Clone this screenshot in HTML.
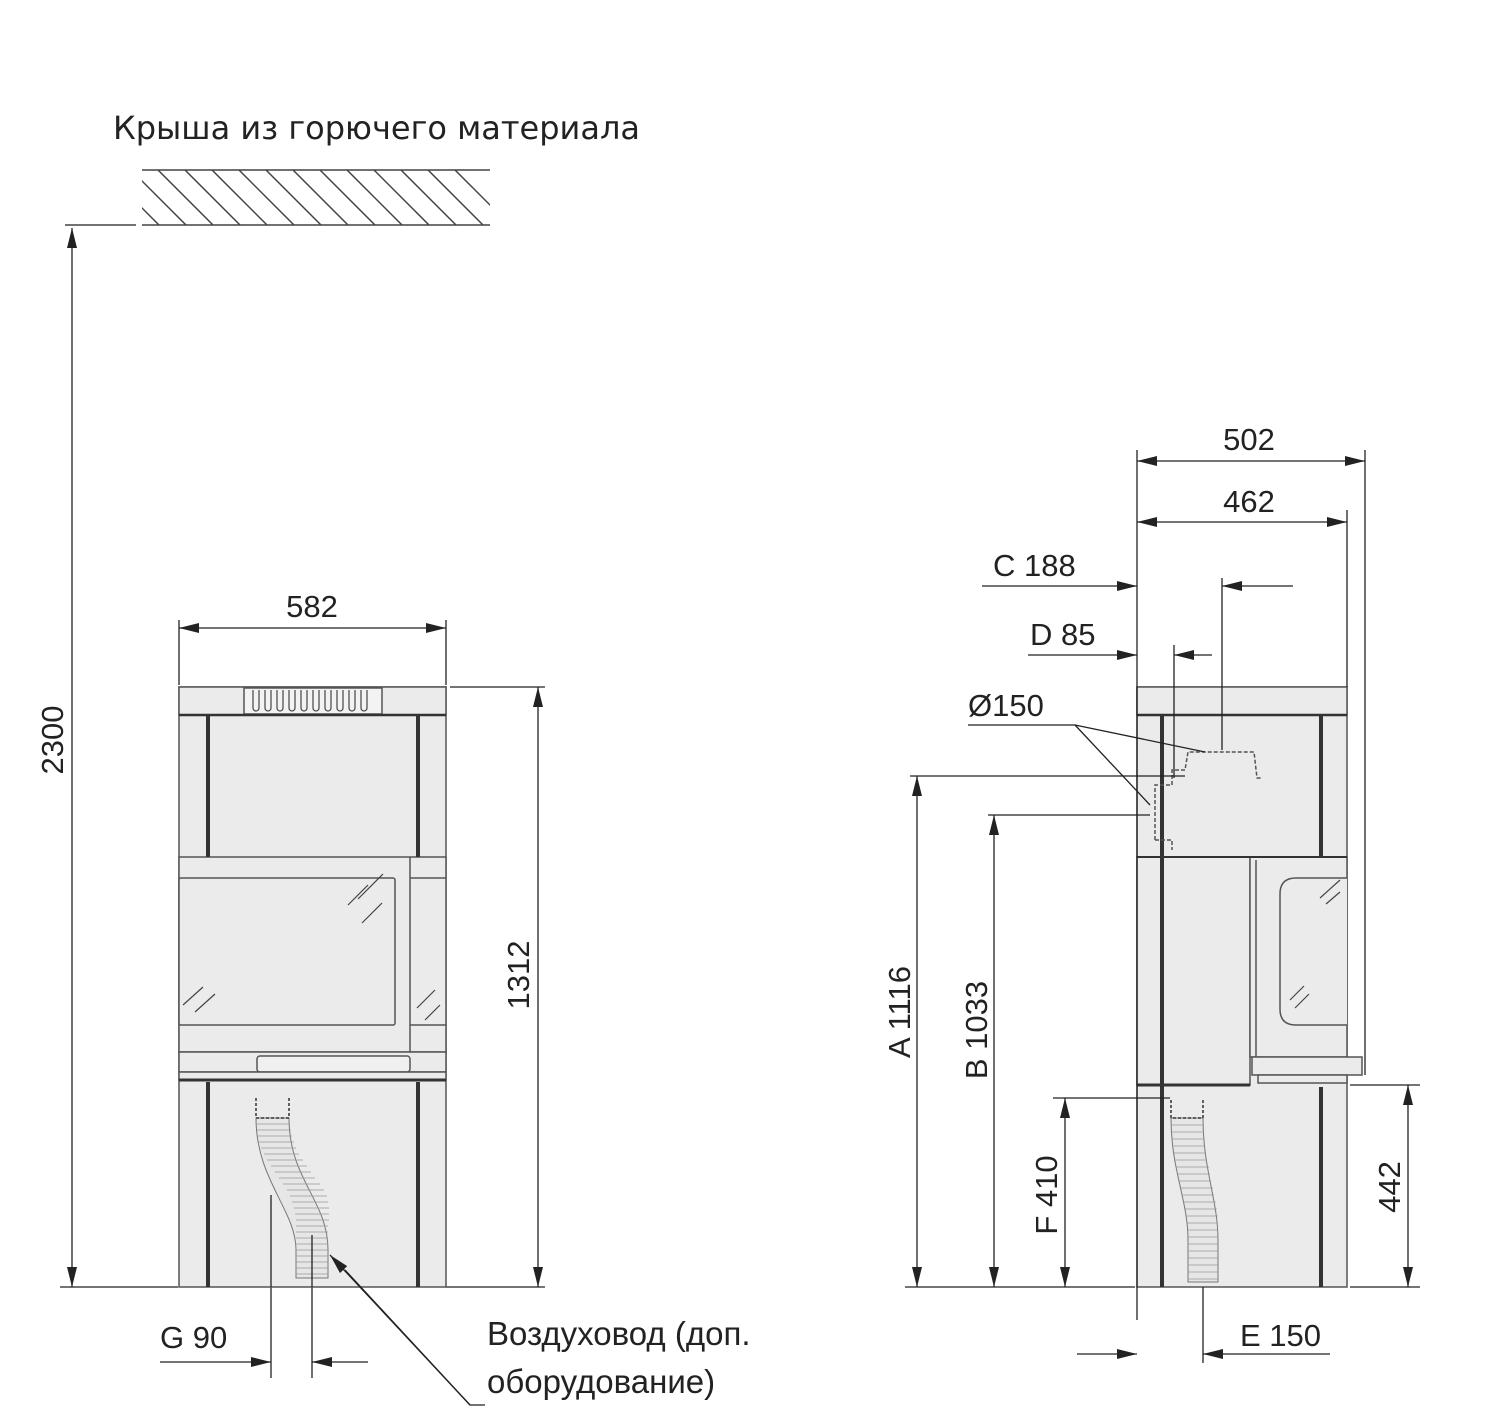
<!DOCTYPE html>
<html><head><meta charset="utf-8"><style>
html,body{margin:0;padding:0;background:#fff;}
svg{display:block;}
text{font-family:"Liberation Sans",sans-serif;fill:#222;}
</style></head><body>
<svg width="1500" height="1427" viewBox="0 0 1500 1427" xmlns="http://www.w3.org/2000/svg">
<defs>
<marker id="a" viewBox="0 0 20 10" refX="20" refY="5" markerWidth="20" markerHeight="10" markerUnits="userSpaceOnUse" orient="auto-start-reverse"><path d="M0,0 L20,5 L0,10 z" fill="#222"/></marker>
<clipPath id="hc"><rect x="142" y="170" width="348" height="55"/></clipPath>
</defs>
<text x="113" y="139" font-size="32" style="font-family:'DejaVu Sans','Liberation Sans',sans-serif" fill="#333">Крыша из горючего материала</text>
<g stroke="#444" stroke-width="1.5">
<line x1="142" y1="170" x2="490" y2="170"/><line x1="142" y1="225" x2="490" y2="225"/>
<line x1="65" y1="225" x2="136" y2="225"/>
<g clip-path="url(#hc)">
<line x1="104" y1="170" x2="159" y2="225"/><line x1="131" y1="170" x2="186" y2="225"/><line x1="158" y1="170" x2="213" y2="225"/><line x1="185" y1="170" x2="240" y2="225"/><line x1="212" y1="170" x2="267" y2="225"/><line x1="239" y1="170" x2="294" y2="225"/><line x1="266" y1="170" x2="321" y2="225"/><line x1="293" y1="170" x2="348" y2="225"/><line x1="320" y1="170" x2="375" y2="225"/><line x1="347" y1="170" x2="402" y2="225"/><line x1="374" y1="170" x2="429" y2="225"/><line x1="401" y1="170" x2="456" y2="225"/><line x1="428" y1="170" x2="483" y2="225"/><line x1="455" y1="170" x2="510" y2="225"/>
</g>
</g>
<g stroke="#222" stroke-width="1.3" fill="none">
<line x1="72" y1="228" x2="72" y2="1287" marker-start="url(#a)" marker-end="url(#a)"/>
<line x1="60" y1="1287" x2="178" y2="1287"/>
<line x1="446" y1="1287" x2="545" y2="1287"/>
<line x1="179" y1="620" x2="179" y2="685"/><line x1="446" y1="620" x2="446" y2="685"/>
<line x1="179" y1="628" x2="446" y2="628" marker-start="url(#a)" marker-end="url(#a)"/>
<line x1="450" y1="687" x2="545" y2="687"/>
<line x1="538" y1="687" x2="538" y2="1287" marker-start="url(#a)" marker-end="url(#a)"/>
<line x1="271" y1="1125" x2="271" y2="1378"/><line x1="312" y1="1235" x2="312" y2="1378"/>
<line x1="160" y1="1362" x2="271" y2="1362" marker-end="url(#a)"/>
<line x1="368" y1="1362" x2="312" y2="1362" marker-end="url(#a)"/>
</g>
<text x="312" y="617" font-size="31" text-anchor="middle">582</text>
<text x="0" y="0" font-size="31" text-anchor="middle" transform="translate(63,740) rotate(-90)">2300</text>
<text x="0" y="0" font-size="31" text-anchor="middle" transform="translate(529,975) rotate(-90)">1312</text>
<text x="160" y="1348" font-size="31">G 90</text>
<text x="487" y="1345" font-size="33">Воздуховод (доп.</text>
<text x="487" y="1393" font-size="33">оборудование)</text>

<!-- LEFT STOVE -->
<g stroke="#555" stroke-width="1.5" fill="#ebebeb">
<rect x="179" y="687" width="267" height="600"/>
<rect x="179" y="687" width="267" height="28"/>
<rect x="244" y="688" width="138" height="26" fill="#f3f3f3"/>
<rect x="179" y="857" width="267" height="195"/>
<rect x="179" y="878" width="216" height="147" rx="2"/>
<line x1="410" y1="857" x2="410" y2="1080"/>
<line x1="410" y1="878" x2="446" y2="878"/><line x1="410" y1="1025" x2="446" y2="1025"/>
<rect x="179" y="1052" width="267" height="20"/>
<rect x="257" y="1056" width="153" height="16" rx="3" fill="#f0f0f0"/>
<rect x="179" y="1072" width="267" height="8"/>
</g>
<g stroke="#444" stroke-width="1.2" fill="none">
<path d="M253,690 v18 a3,3 0 0 0 6,0 v-18 M265,690 v18 a3,3 0 0 0 6,0 v-18 M277,690 v18 a3,3 0 0 0 6,0 v-18 M289,690 v18 a3,3 0 0 0 6,0 v-18 M301,690 v18 a3,3 0 0 0 6,0 v-18 M313,690 v18 a3,3 0 0 0 6,0 v-18 M325,690 v18 a3,3 0 0 0 6,0 v-18 M337,690 v18 a3,3 0 0 0 6,0 v-18 M349,690 v18 a3,3 0 0 0 6,0 v-18 M361,690 v18 a3,3 0 0 0 6,0 v-18"/>
<path d="M348,905 l20,-20 M358,899 l25,-25 M362,923 l20,-20 M183,1005 l20,-18 M195,1012 l20,-18 M417,1008 l18,-18 M425,1020 l15,-15"/>
</g>
<g stroke="#333" stroke-width="4">
<line x1="208" y1="715" x2="208" y2="857"/><line x1="418" y1="715" x2="418" y2="857"/>
<line x1="208" y1="1082" x2="208" y2="1287"/><line x1="418" y1="1082" x2="418" y2="1287"/>
<line x1="179" y1="715" x2="446" y2="715" stroke-width="2.5"/>
<line x1="179" y1="1080" x2="446" y2="1080" stroke-width="3"/>
</g>
<path d="M256,1118 L289,1118 C289,1180 328,1200 328,1250 L328,1278 L296,1278 L296,1250 C296,1210 256,1180 256,1118 Z" fill="#e6e6e6" stroke="#777" stroke-width="1"/>
<g stroke="#999" stroke-width="0.8">
<path d="M256,1124h34M257,1130h34M258,1136h34M259,1142h35M261,1148h35M264,1154h35M267,1160h36M271,1166h36M275,1172h36M279,1178h36M283,1184h37M287,1190h37M290,1196h37M292,1202h36M294,1208h35M295,1214h34M296,1220h33M296,1226h32M296,1232h32M296,1238h32M296,1244h32M296,1250h32M296,1256h32M296,1262h32M296,1268h32M296,1274h32"/>
</g>
<path d="M256,1098 V1118 H289 V1098" fill="none" stroke="#333" stroke-width="1.5" stroke-dasharray="3,2"/>
<g stroke="#222" stroke-width="1.3" fill="none">
<line x1="271" y1="1195" x2="271" y2="1287"/><line x1="312" y1="1235" x2="312" y2="1287"/>
<polyline points="485,1405 470,1405 345,1270"/>
<line x1="470" y1="1405" x2="330" y2="1255" marker-end="url(#a)"/>
</g>

<!-- RIGHT STOVE -->
<g stroke="#555" stroke-width="1.5" fill="#ebebeb">
<rect x="1137" y="687" width="210" height="600"/>
<rect x="1137" y="687" width="210" height="28"/>
<rect x="1137" y="857" width="113" height="228"/>
<rect x="1250" y="857" width="97" height="200"/>
<line x1="1256" y1="860" x2="1256" y2="1057"/>
<path d="M1347,878 H1296 Q1280,878 1280,894 V1009 Q1280,1025 1296,1025 H1347" fill="#ebebeb"/>
<rect x="1252" y="1057" width="110" height="18"/>
<rect x="1258" y="1075" width="89" height="8"/>
</g>
<g stroke="#444" stroke-width="1.2" fill="none">
<path d="M1320,898 l20,-18 M1326,904 l14,-12 M1290,1000 l14,-14 M1295,1008 l14,-14"/>
</g>
<g stroke="#333" stroke-width="4">
<line x1="1162" y1="715" x2="1162" y2="1287"/>
<line x1="1321" y1="715" x2="1321" y2="857"/>
<line x1="1321" y1="1087" x2="1321" y2="1287"/>
<line x1="1137" y1="715" x2="1347" y2="715" stroke-width="2.5"/>
<line x1="1137" y1="857" x2="1347" y2="857" stroke-width="2"/>
<line x1="1137" y1="1085" x2="1250" y2="1085" stroke-width="3"/>
</g>
<path d="M1171,1118 L1203,1118 C1203,1170 1218,1200 1218,1240 L1218,1282 L1188,1282 L1188,1240 C1188,1200 1171,1170 1171,1118 Z" fill="#e6e6e6" stroke="#777" stroke-width="1"/>
<g stroke="#999" stroke-width="0.8"><path d="M1171,1125h32M1172,1132h32M1172,1139h32M1173,1146h32M1174,1153h32M1175,1160h32M1176,1167h33M1178,1174h32M1179,1181h32M1181,1188h32M1182,1195h32M1184,1202h32M1185,1209h32M1186,1216h32M1187,1223h31M1188,1230h30M1188,1237h30M1188,1244h30M1188,1251h30M1188,1258h30M1188,1265h30M1188,1272h30M1188,1279h30"/></g>
<path d="M1171,1100 V1118 H1203 V1100" fill="none" stroke="#333" stroke-width="1.5" stroke-dasharray="3,2"/>
<path d="M1155,840 V785 H1172 V770 H1185 L1188,752 H1254 L1257,778 H1262 M1155,840 H1172 V850" fill="none" stroke="#555" stroke-width="1.5" stroke-dasharray="4,2"/>

<g stroke="#222" stroke-width="1.3" fill="none">
<line x1="1137" y1="450" x2="1137" y2="1320"/>
<line x1="1365" y1="450" x2="1365" y2="1075"/>
<line x1="1347" y1="510" x2="1347" y2="687"/>
<line x1="1137" y1="461" x2="1365" y2="461" marker-start="url(#a)" marker-end="url(#a)"/>
<line x1="1137" y1="522" x2="1347" y2="522" marker-start="url(#a)" marker-end="url(#a)"/>
<line x1="982" y1="586" x2="1137" y2="586" marker-end="url(#a)"/>
<line x1="1293" y1="586" x2="1222" y2="586" marker-end="url(#a)"/>
<line x1="1222" y1="578" x2="1222" y2="750"/>
<line x1="1028" y1="655" x2="1137" y2="655" marker-end="url(#a)"/>
<line x1="1212" y1="655" x2="1174" y2="655" marker-end="url(#a)"/>
<line x1="1174" y1="645" x2="1174" y2="778"/>
<polyline points="968,725 1075,725 1205,752"/>
<line x1="1075" y1="725" x2="1150" y2="805"/>
<line x1="910" y1="776" x2="1185" y2="776"/>
<line x1="988" y1="815" x2="1150" y2="815"/>
<line x1="917" y1="776" x2="917" y2="1287" marker-start="url(#a)" marker-end="url(#a)"/>
<line x1="994" y1="815" x2="994" y2="1287" marker-start="url(#a)" marker-end="url(#a)"/>
<line x1="1053" y1="1098" x2="1170" y2="1098"/>
<line x1="1065" y1="1098" x2="1065" y2="1287" marker-start="url(#a)" marker-end="url(#a)"/>
<line x1="1350" y1="1085" x2="1420" y2="1085"/>
<line x1="1408" y1="1085" x2="1408" y2="1287" marker-start="url(#a)" marker-end="url(#a)"/>
<line x1="905" y1="1287" x2="1135" y2="1287"/>
<line x1="1350" y1="1287" x2="1420" y2="1287"/>
<line x1="1203" y1="1287" x2="1203" y2="1363"/>
<line x1="1077" y1="1354" x2="1137" y2="1354" marker-end="url(#a)"/>
<line x1="1330" y1="1354" x2="1203" y2="1354" marker-end="url(#a)"/>
</g>
<text x="1249" y="450" font-size="31" text-anchor="middle">502</text>
<text x="1249" y="512" font-size="31" text-anchor="middle">462</text>
<text x="993" y="576" font-size="31">C 188</text>
<text x="1030" y="645" font-size="31">D 85</text>
<text x="968" y="716" font-size="31">Ø150</text>
<text x="1240" y="1346" font-size="31">E 150</text>
<text font-size="31" text-anchor="middle" transform="translate(910,1012) rotate(-90)">A 1116</text>
<text font-size="31" text-anchor="middle" transform="translate(987,1030) rotate(-90)">B 1033</text>
<text font-size="31" text-anchor="middle" transform="translate(1057,1195) rotate(-90)">F 410</text>
<text font-size="31" text-anchor="middle" transform="translate(1400,1187) rotate(-90)">442</text>
</svg>
</body></html>
